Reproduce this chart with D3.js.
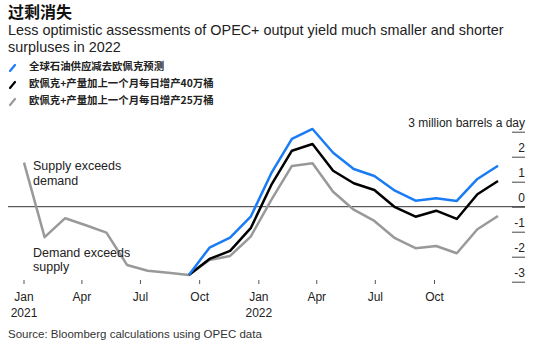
<!DOCTYPE html>
<html>
<head>
<meta charset="utf-8">
<script src="https://cdn.jsdelivr.net/npm/d3@7"></script>
<style>
  body { margin: 0; background: #fff; }
  text { font-family: "Liberation Sans", Arial, sans-serif; }
  .cjk { font-family: "Noto Sans CJK SC", sans-serif; }
</style>
</head>
<body>
<div id="chart"></div>
<script>
// monthly values, million barrels a day
const months = ["2021-01","2021-02","2021-03","2021-04","2021-05","2021-06","2021-07","2021-08","2021-09","2021-10","2021-11","2021-12",
                "2022-01","2022-02","2022-03","2022-04","2022-05","2022-06","2022-07","2022-08","2022-09","2022-10","2022-11","2022-12"];
const opecForecast = [null,null,null,null,null,null,null,null,-2.73,-1.64,-1.24,-0.4,1.34,2.71,3.11,2.16,1.51,1.23,0.64,0.24,0.34,0.23,1.11,1.64];
const plus400k = [null,null,null,null,null,null,null,null,-2.73,-2.09,-1.77,-0.86,0.87,2.24,2.51,1.44,0.94,0.67,-0.02,-0.4,-0.16,-0.49,0.5,1.03];
const plus250k = [1.76,-1.22,-0.46,-0.74,-1.04,-2.33,-2.56,-2.64,-2.73,-2.13,-1.97,-1.2,0.27,1.63,1.74,0.6,-0.12,-0.57,-1.26,-1.66,-1.57,-1.86,-0.9,-0.37];

const seriesNames = ["全球石油供应减去欧佩克预测","欧佩克+产量加上一个月每日增产40万桶","欧佩克+产量加上一个月每日增产25万桶"];
const seriesColors = ["#1a7cf5","#000000","#999999"];

const xTickDates = ["2021-01-01","2021-04-01","2021-07-01","2021-10-01","2022-01-01","2022-04-01","2022-07-01","2022-10-01"];
const yTicks = [-3,-2,-1,0,1,2,3];

const width = 550, height = 351;
const svg = d3.select("#chart").append("svg")
    .attr("width", width).attr("height", height);

// title + subtitle
svg.append("text").attr("class","cjk").attr("x",8).attr("y",18)
  .attr("font-size",16).attr("font-weight",700).attr("fill","#111").text("过剩消失");
svg.append("text").attr("x",8).attr("y",35).attr("font-size",14.4).attr("fill","#222")
  .text("Less optimistic assessments of OPEC+ output yield much smaller and shorter");
svg.append("text").attr("x",8).attr("y",52).attr("font-size",14.4).attr("fill","#222")
  .text("surpluses in 2022");

// legend
const legend = svg.append("g");
seriesNames.forEach((name,i) => {
  const cy = 66 + i*17;
  legend.append("line").attr("x1",10).attr("y1",cy+5).attr("x2",15).attr("y2",cy-1)
    .attr("stroke",seriesColors[i]).attr("stroke-width",2.2).attr("stroke-linecap","round");
  legend.append("text").attr("class","cjk").attr("x",29).attr("y",cy+4)
    .attr("font-size",10.4).attr("font-weight",700).attr("fill","#222").text(name);
});

// scales
const x = d3.scalePoint().domain(months).range([24, 498]);
const xTime = d3.scaleTime()
  .domain([new Date("2021-01-01T00:00"), new Date("2022-10-01T00:00")])
  .range([23.5, 434]);
const y = d3.scaleLinear().domain([-3, 3]).range([281.7, 131.7]);

// zero line
svg.append("line").attr("x1",8).attr("x2",525).attr("y1",y(0)).attr("y2",y(0))
  .attr("stroke","#333").attr("stroke-width",1);

// y axis on the right, labels above tick marks
const yAxis = svg.append("g").attr("transform","translate(525,0)")
  .call(d3.axisLeft(y).tickValues(yTicks).tickSize(13)
    .tickFormat(d => d === 3 ? "3 million barrels a day" : d));
yAxis.select(".domain").remove();
yAxis.selectAll(".tick line").attr("stroke","#444");
yAxis.selectAll(".tick text")
  .attr("x",0).attr("dy",null).attr("y",-5)
  .attr("text-anchor","end").attr("font-size",12).attr("fill","#222")
  .style("font-family","'Liberation Sans', Arial, sans-serif");

// x axis
const fmtMonth = d3.timeFormat("%b");
const xAxis = svg.append("g").attr("transform","translate(0,280)")
  .call(d3.axisBottom(xTime).tickValues(xTickDates.map(s => new Date(s+"T00:00")))
    .tickSize(4).tickFormat(""));
xAxis.select(".domain").remove();
xAxis.selectAll(".tick line").attr("stroke","#555");
xAxis.selectAll(".tick").each(function(d){
  const t = d3.select(this).append("text")
    .attr("text-anchor","middle").attr("font-size",12).attr("fill","#222")
    .style("font-family","'Liberation Sans', Arial, sans-serif");
  t.append("tspan").attr("x",0).attr("y",21).text(fmtMonth(d));
  if (d.getMonth() === 0) t.append("tspan").attr("x",0).attr("y",37).text(d.getFullYear());
});

// lines
const line = d3.line()
  .defined(d => d.v != null)
  .x(d => x(d.m))
  .y(d => y(d.v));
[plus250k, plus400k, opecForecast].forEach((vals,i) => {
  const col = seriesColors[2-i];
  svg.append("path")
    .datum(months.map((m,j) => ({m:m, v:vals[j]})))
    .attr("fill","none").attr("stroke",col).attr("stroke-width",2.5)
    .attr("stroke-linejoin","round")
    .attr("d", line);
});

// annotations
const ann = [["Supply exceeds",170],["demand",185],["Demand exceeds",257],["supply",271]];
ann.forEach(a => svg.append("text").attr("x",33).attr("y",a[1])
  .attr("font-size",12.5).attr("fill","#222").text(a[0]));

// source
svg.append("text").attr("x",8).attr("y",338).attr("font-size",11.5).attr("fill","#333")
  .text("Source: Bloomberg calculations using OPEC data");
</script>
</body>
</html>
